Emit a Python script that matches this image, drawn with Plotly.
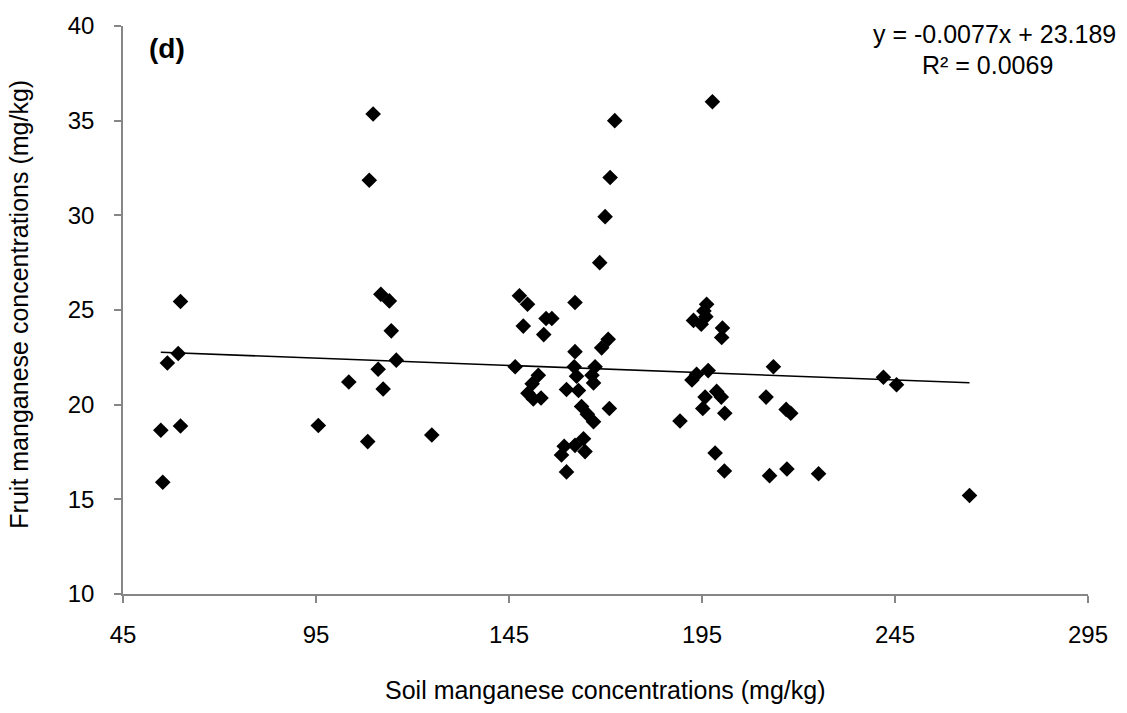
import plotly.graph_objects as go

# Soil Mn (x) vs fruit Mn (y), mg/kg
soil_mn = [
    54.8, 55.3, 56.5, 59.3, 59.9, 59.9,
    95.6, 103.5, 108.4, 111.1, 112.4, 111.8, 114.0, 114.5, 115.8, 125.0, 109.8, 108.8,
    146.6, 147.7, 149.8, 148.7, 154.6, 156.1, 154.0, 152.6, 151.0, 149.9, 151.3, 153.3,
    162.1, 162.1, 161.9, 162.5, 159.9, 163.0, 166.5, 166.9, 167.3, 169.0, 170.7,
    163.8, 165.3, 166.9, 171.0, 164.3, 162.1, 164.7, 159.3, 158.6, 159.9,
    168.5, 169.9, 171.2, 172.4,
    197.7, 196.2, 195.5, 196.0, 192.8, 194.8, 200.3, 200.1,
    192.4, 193.6, 196.6, 195.8, 195.2, 189.3, 198.8, 198.4, 200.0, 200.9, 200.8,
    211.6, 213.5, 216.8, 218.0, 212.5, 217.0, 225.2, 242.0, 245.4, 264.3,
]
fruit_mn = [
    18.65, 15.9, 22.2, 22.7, 25.45, 18.87,
    18.9, 21.2, 18.05, 21.87, 20.83, 25.83, 25.48, 23.9, 22.35, 18.4, 35.35, 31.85,
    22.0, 25.75, 25.3, 24.15, 24.55, 24.55, 23.7, 21.55, 21.1, 20.6, 20.3, 20.35,
    25.4, 22.8, 22.0, 21.5, 20.8, 20.75, 21.55, 21.15, 22.0, 23.0, 23.45,
    19.9, 19.5, 19.1, 19.8, 18.2, 17.85, 17.52, 17.8, 17.34, 16.45,
    27.5, 29.93, 32.0, 35.0,
    36.0, 25.3, 24.95, 24.65, 24.45, 24.25, 24.05, 23.55,
    21.3, 21.6, 21.8, 20.4, 19.8, 19.14, 20.7, 17.45, 20.4, 19.55, 16.5,
    20.4, 22.0, 19.75, 19.55, 16.25, 16.6, 16.35, 21.45, 21.05, 15.2,
]

# Linear trendline coefficients
slope = -0.0077
intercept = 23.189
r_squared = 0.0069

x_ticks = [45, 95, 145, 195, 245, 295]
y_ticks = [10, 15, 20, 25, 30, 35, 40]

FONT = "Liberation Sans, Arial, sans-serif"
AXIS_GREY = "#868686"

x_min, x_max = min(soil_mn), max(soil_mn)
trend_x = [x_min, x_max]
trend_y = [slope * v + intercept for v in trend_x]

fig = go.Figure()
fig.add_trace(go.Scatter(
    x=soil_mn, y=fruit_mn, mode="markers",
    marker=dict(symbol="diamond", size=12, color="black", line=dict(width=0)),
    showlegend=False,
))
fig.add_trace(go.Scatter(
    x=trend_x, y=trend_y, mode="lines",
    line=dict(color="black", width=1.6),
    showlegend=False,
))

axis_common = dict(
    showgrid=False, zeroline=False,
    showline=True, linecolor=AXIS_GREY, linewidth=1.6,
    ticks="outside", ticklen=7, tickwidth=1.6, tickcolor=AXIS_GREY,
    tickfont=dict(family=FONT, size=24, color="black"),
)

fig.update_xaxes(range=[45, 295], tickvals=x_ticks, ticktext=[str(t) for t in x_ticks],
                 ticklabelstandoff=11, **axis_common)
fig.update_yaxes(range=[10, 40], tickvals=y_ticks, ticktext=[str(t) for t in y_ticks],
                 ticklabelstandoff=15, **axis_common)

eq_line1 = f"y = {slope:.4f}x + {intercept:.3f}"
eq_line2 = f"R² = {r_squared:.4f}"

fig.update_layout(
    width=1127, height=713,
    margin=dict(l=123, r=39, t=26, b=119),
    paper_bgcolor="white", plot_bgcolor="white",
    font=dict(family=FONT, color="black"),
    annotations=[
        dict(text="<b>(d)</b>", xref="paper", yref="paper", x=0.025, y=0.960,
             xanchor="left", yanchor="middle", showarrow=False,
             font=dict(family=FONT, size=28, color="black")),
        dict(text=eq_line1, xref="paper", yref="paper", x=1.031, y=0.9859,
             xanchor="right", yanchor="middle", showarrow=False,
             font=dict(family=FONT, size=25, color="black")),
        dict(text=eq_line2, xref="paper", yref="paper", x=0.8959, y=0.9313,
             xanchor="center", yanchor="middle", showarrow=False,
             font=dict(family=FONT, size=25, color="black")),
        dict(text="Soil manganese concentrations (mg/kg)", xref="paper", yref="paper",
             x=0.5, y=-0.169, xanchor="center", yanchor="middle", showarrow=False,
             font=dict(family=FONT, size=25, color="black")),
        dict(text="Fruit manganese concentrations (mg/kg)", xref="paper", yref="paper",
             x=-0.108, y=0.112, xanchor="center", yanchor="bottom", textangle=-90,
             showarrow=False, font=dict(family=FONT, size=25, color="black")),
    ],
)

fig.write_html("out.html")
